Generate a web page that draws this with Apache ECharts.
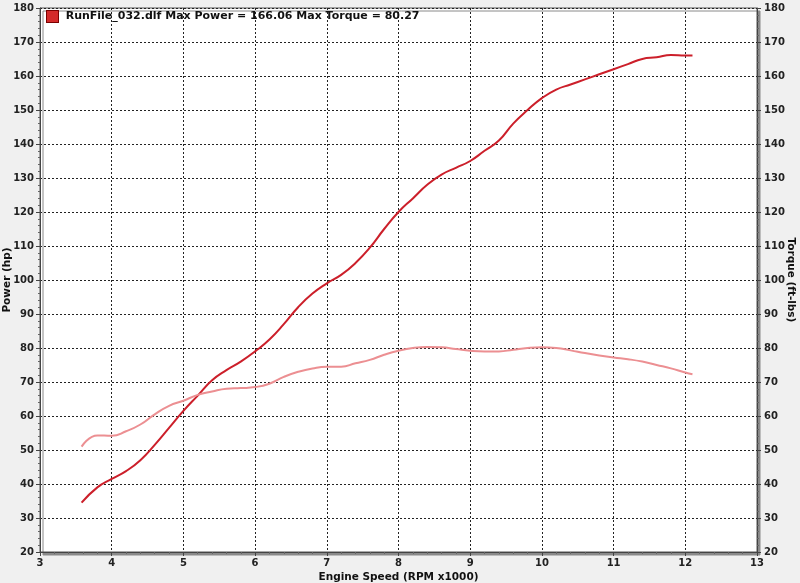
<!DOCTYPE html>
<html>
<head>
<meta charset="utf-8">
<script src="https://cdn.jsdelivr.net/npm/echarts@6/dist/echarts.min.js"></script>
<style>
	html, body { margin: 0; padding: 0; background: #f0f0f0; }
	#chart { width: 800px; height: 583px; }
</style>
</head>
<body>
<div id="chart"></div>
<script>
// engine speed in RPM x1000
const rpm = [3.58, 3.8, 4.0, 4.2, 4.4, 4.6, 4.8, 5.0, 5.2, 5.4, 5.6, 5.8, 6.0, 6.2, 6.4, 6.6, 6.8, 7.0,
	7.2, 7.4, 7.6, 7.8, 8.0, 8.2, 8.4, 8.6, 8.8, 9.0, 9.2, 9.4, 9.6, 9.8, 10.0, 10.2, 10.4, 10.6,
	10.8, 11.0, 11.2, 11.4, 11.6, 11.8, 12.0, 12.1];
const power = [34.5, 39, 41.5, 43.8, 47, 51.5, 56.5, 61.5, 66, 70.5, 73.5, 76, 79, 82.5, 87, 92, 96, 99,
	101.5, 105, 109.5, 115, 120, 124, 128, 131, 133, 135, 138, 141, 146, 150, 153.5, 156, 157.5, 159,
	160.5, 162, 163.5, 165, 165.5, 166.2, 166, 166];
const torque = [51, 54.3, 54.2, 55.5, 57.5, 60.5, 63, 64.5, 66.2, 67.2, 68, 68.2, 68.5, 69.5, 71.5, 73, 74, 74.5,
	74.5, 75.5, 76.5, 78, 79.2, 80, 80.3, 80.2, 79.7, 79.2, 79, 79, 79.5, 80, 80.2, 80, 79.3, 78.5,
	77.8, 77.2, 76.7, 76, 75, 74, 72.8, 72.3];
const titleText = "RunFile_032.dlf Max Power = 166.06 Max Torque = 80.27";

const chart = echarts.init(document.getElementById("chart"));

const labelFont = { color: "#222", fontWeight: "bold", fontSize: 10, fontFamily: "DejaVu Sans" };
const nameFont = { color: "#111", fontWeight: "bold", fontSize: 10.5, fontFamily: "DejaVu Sans" };

function yAxis(pos, name) {
	return {
		type: "value",
		position: pos,
		min: 20,
		max: 180,
		interval: 10,
		name: name,
		nameLocation: "middle",
		nameMoveOverlap: false,
		nameGap: pos === "left" ? 27 : 28,
		nameRotate: pos === "left" ? 90 : -90,
		nameTextStyle: nameFont,
		axisLine: { show: true, lineStyle: { color: "#444", width: 1 } },
		axisTick: { show: true, length: 4, lineStyle: { color: "#444" } },
		minorTick: { show: true, splitNumber: 5, length: 2, lineStyle: { color: "#666" } },
		axisLabel: Object.assign({ margin: pos === "left" ? 6 : 7 }, labelFont),
		splitLine: { show: pos === "left", lineStyle: { color: "#222", type: [2, 2], width: 1 } },
	};
}

const option = {
	backgroundColor: "#f0f0f0",
	animation: false,
	title: {
		text: "{icon|}  " + titleText,
		left: 42,
		top: 6,
		textStyle: {
			fontSize: 11,
			fontWeight: "bold",
			color: "#111",
			fontFamily: "DejaVu Sans",
			rich: {
				icon: {
					width: 11,
					height: 11,
					backgroundColor: "#d42a2a",
					borderColor: "#7a0000",
					borderWidth: 1,
				},
			},
		},
	},
	grid: {
		left: 40,
		right: 43,
		top: 8,
		bottom: 31,
		outerBoundsMode: "none",
		containLabel: false,
		show: true,
		backgroundColor: "#ffffff",
		borderColor: "#555",
		borderWidth: 1,
		shadowColor: "#8a8a8a",
		shadowOffsetX: 3,
		shadowOffsetY: 3,
		shadowBlur: 0,
	},
	xAxis: {
		type: "value",
		min: 3,
		max: 13,
		interval: 1,
		name: "Engine Speed (RPM x1000)",
		nameLocation: "middle",
		nameMoveOverlap: false,
		nameGap: 20,
		nameTextStyle: nameFont,
		axisLine: { show: true, lineStyle: { color: "#444" } },
		axisTick: { show: true, length: 4, lineStyle: { color: "#444" } },
		minorTick: { show: true, splitNumber: 5, length: 2, lineStyle: { color: "#666" } },
		axisLabel: Object.assign({ margin: 6 }, labelFont),
		splitLine: { show: true, lineStyle: { color: "#222", type: [2, 2], width: 1 } },
	},
	yAxis: [yAxis("left", "Power (hp)"), yAxis("right", "Torque (ft-lbs)")],
	series: [
		{
			name: "Power",
			type: "line",
			data: rpm.map((r, i) => [r, power[i]]),
			smooth: true,
			showSymbol: false,
			lineStyle: { color: "#cc1f2a", width: 2 },
		},
		{
			name: "Torque",
			type: "line",
			data: rpm.map((r, i) => [r, torque[i]]),
			smooth: true,
			showSymbol: false,
			lineStyle: { color: "#ec8f92", width: 2 },
		},
	],
};

chart.setOption(option);
</script>
</body>
</html>
